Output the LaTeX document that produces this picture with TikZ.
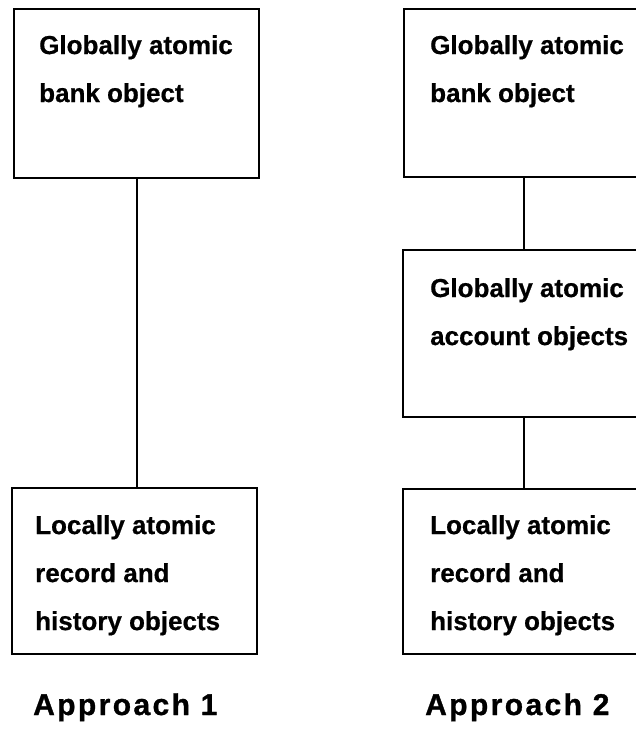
\documentclass[tikz,border=0pt]{standalone}
\usepackage{fontspec}
\setmainfont{Liberation Sans}
\begin{document}
\begin{tikzpicture}[x=1pt,y=-1pt,
  box/.style={draw, line width=2.2pt, inner sep=0pt, anchor=north west},
  txt/.style={anchor=north west, inner sep=0pt, align=left,
    font=\fontsize{26}{48}\selectfont\bfseries\addfontfeatures{FakeBold=0.6}},
  lab/.style={anchor=base west, inner sep=0pt,
    font=\fontsize{30}{36}\selectfont\bfseries\addfontfeatures{LetterSpace=8,FakeBold=1}},
  link/.style={line width=2.2pt}]
\useasboundingbox (0,0) rectangle (636,733);
\clip (0,0) rectangle (636,733);
% Approach 1
\node[box, minimum width=245pt, minimum height=169pt] (a1) at (13,8) {};
\node[box, minimum width=245pt, minimum height=166pt] (a2) at (11,487) {};
\node[txt] (a1t) at (39,35) {Globally atomic\\bank object};
\node[txt] (a2t) at (35,515) {Locally atomic\\record and\\history objects};
\draw[link] (a1.south) -- (a1.south |- a2.north);
\node[lab] (l1) at (33,715) {Approach 1};
% Approach 2
\node[box, minimum width=240pt, minimum height=168pt] (b1) at (403,8) {};
\node[box, minimum width=242pt, minimum height=167pt] (b2) at (402,249) {};
\node[box, minimum width=242pt, minimum height=165pt] (b3) at (402,488) {};
\node[txt] (b1t) at (430,35) {Globally atomic\\bank object};
\node[txt] (b2t) at (430,278) {Globally atomic\\account objects};
\node[txt] (b3t) at (430,515) {Locally atomic\\record and\\history objects};
\draw[link] (b1.south) -- (b2.north);
\draw[link] (b2.south) -- (b3.north);
\node[lab] (l2) at (425,715) {Approach 2};
\end{tikzpicture}
\end{document}
